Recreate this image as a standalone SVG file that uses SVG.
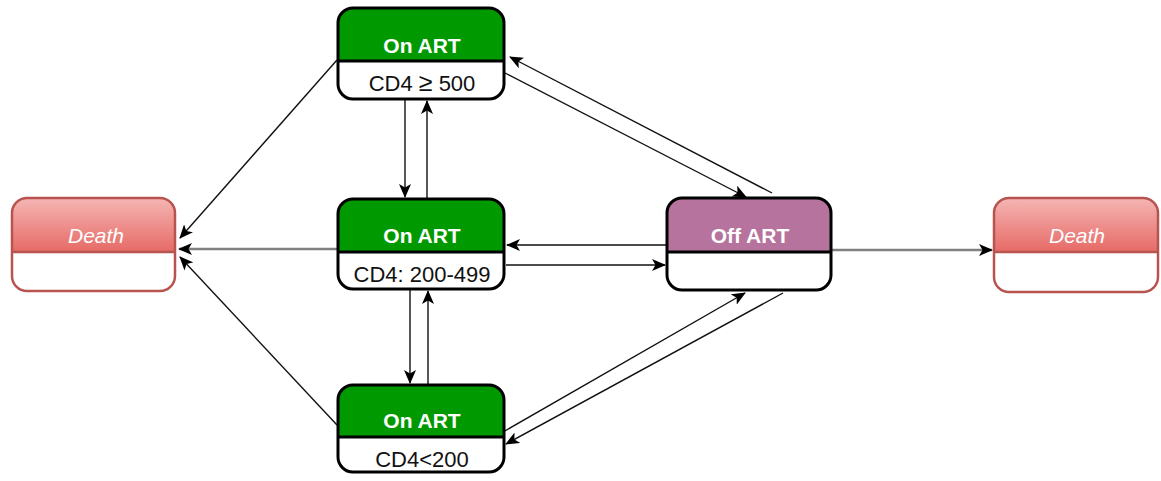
<svg xmlns="http://www.w3.org/2000/svg" width="1161" height="481" viewBox="0 0 1161 481">
  <style>
    .frame { fill: none; stroke: #000; stroke-width: 3; }
    .rule { stroke: #000; stroke-width: 3; }
    .onart { fill: #009900; }
    .offart { fill: #b5739d; }
    .deathframe { fill: none; stroke: #b85450; stroke-width: 2.5; }
    .deathrule { stroke: #b85450; stroke-width: 2.5; }
    .title { font-family: "Liberation Sans", Arial, sans-serif; font-size: 21px; font-weight: bold; fill: #fff; text-anchor: middle; }
    .sub { font-family: "Liberation Sans", Arial, sans-serif; font-size: 22px; fill: #111; text-anchor: middle; }
    .deathtitle { font-family: "Liberation Sans", Arial, sans-serif; font-size: 21px; font-style: italic; fill: #fff; text-anchor: middle; }
    .edge { fill: none; stroke: #111; stroke-width: 1.4; marker-end: url(#arrow); }
    .edge-grey { fill: none; stroke: #808080; stroke-width: 2.5; marker-end: url(#arrow); }
  </style>
  <defs>
    <linearGradient id="deathFill" x1="0" y1="0" x2="0" y2="1">
      <stop offset="0" stop-color="#f5b6b4"/>
      <stop offset="1" stop-color="#e66a66"/>
    </linearGradient>
    <marker id="arrow" viewBox="0 0 14 12" refX="13" refY="6" markerWidth="14" markerHeight="12" markerUnits="userSpaceOnUse" orient="auto">
      <path d="M0,0 L14,6 L0,12 L3.5,6 Z" fill="#000"/>
    </marker>
  </defs>

  <rect width="1161" height="481" fill="#fff"/>

  <!-- connectors -->
  <g id="connectors">
    <!-- to left Death -->
    <line class="edge" x1="337" y1="60" x2="180" y2="238"/>
    <line class="edge-grey" x1="338" y1="249" x2="179" y2="249"/>
    <line class="edge" x1="337" y1="425" x2="180" y2="257"/>
    <!-- top On ART <-> middle On ART -->
    <line class="edge" x1="405" y1="100" x2="405" y2="197"/>
    <line class="edge" x1="427" y1="198" x2="427" y2="101"/>
    <!-- middle On ART <-> bottom On ART -->
    <line class="edge" x1="410" y1="290" x2="410" y2="383"/>
    <line class="edge" x1="428" y1="384" x2="428" y2="291"/>
    <!-- middle On ART <-> Off ART -->
    <line class="edge" x1="666" y1="245" x2="507" y2="245"/>
    <line class="edge" x1="506" y1="265" x2="665" y2="265"/>
    <!-- top On ART <-> Off ART -->
    <line class="edge" x1="772" y1="193" x2="510" y2="57"/>
    <line class="edge" x1="505" y1="73" x2="746" y2="197"/>
    <!-- bottom On ART <-> Off ART -->
    <line class="edge" x1="503" y1="432" x2="745" y2="293"/>
    <line class="edge" x1="783" y1="293" x2="506" y2="444"/>
    <!-- Off ART to right Death -->
    <line class="edge-grey" x1="832" y1="250" x2="992" y2="250"/>
  </g>

  <!-- On ART, CD4 >= 500 -->
  <g id="on-art-high">
    <rect x="338" y="8" width="166" height="91" rx="15" fill="#fff"/>
    <path class="onart" d="M338,61 V23 A15,15 0 0 1 353,8 H489 A15,15 0 0 1 504,23 V61 Z"/>
    <line class="rule" x1="338" y1="61" x2="504" y2="61"/>
    <rect class="frame" x="338" y="8" width="166" height="91" rx="15"/>
    <text class="title" x="422" y="53">On ART</text>
    <text class="sub" x="422" y="91">CD4 <tspan font-size="25px">≥</tspan> 500</text>
  </g>

  <!-- On ART, CD4 200-499 -->
  <g id="on-art-mid">
    <rect x="338" y="199" width="166" height="90" rx="15" fill="#fff"/>
    <path class="onart" d="M338,252 V214 A15,15 0 0 1 353,199 H489 A15,15 0 0 1 504,214 V252 Z"/>
    <line class="rule" x1="338" y1="252" x2="504" y2="252"/>
    <rect class="frame" x="338" y="199" width="166" height="90" rx="15"/>
    <text class="title" x="422" y="243">On ART</text>
    <text class="sub" x="422" y="282">CD4: 200-499</text>
  </g>

  <!-- On ART, CD4 < 200 -->
  <g id="on-art-low">
    <rect x="338" y="385" width="166" height="87" rx="15" fill="#fff"/>
    <path class="onart" d="M338,437 V400 A15,15 0 0 1 353,385 H489 A15,15 0 0 1 504,400 V437 Z"/>
    <line class="rule" x1="338" y1="437" x2="504" y2="437"/>
    <rect class="frame" x="338" y="385" width="166" height="87" rx="15"/>
    <text class="title" x="422" y="428">On ART</text>
    <text class="sub" x="422" y="467">CD4&lt;200</text>
  </g>

  <!-- Off ART -->
  <g id="off-art">
    <rect x="667" y="198" width="164" height="92" rx="15" fill="#fff"/>
    <path class="offart" d="M667,252 V213 A15,15 0 0 1 682,198 H816 A15,15 0 0 1 831,213 V252 Z"/>
    <line class="rule" x1="667" y1="252" x2="831" y2="252"/>
    <rect class="frame" x="667" y="198" width="164" height="92" rx="15"/>
    <text class="title" x="750" y="243">Off ART</text>
  </g>

  <!-- Death (left) -->
  <g id="death-left">
    <rect x="12" y="198" width="163" height="93" rx="15" fill="#fff"/>
    <path d="M12,252 V213 A15,15 0 0 1 27,198 H160 A15,15 0 0 1 175,213 V252 Z" fill="url(#deathFill)"/>
    <line class="deathrule" x1="12" y1="252" x2="175" y2="252"/>
    <rect class="deathframe" x="12" y="198" width="163" height="93" rx="15"/>
    <text class="deathtitle" x="96" y="243">Death</text>
  </g>

  <!-- Death (right) -->
  <g id="death-right">
    <rect x="994" y="198" width="164" height="94" rx="15" fill="#fff"/>
    <path d="M994,252 V213 A15,15 0 0 1 1009,198 H1143 A15,15 0 0 1 1158,213 V252 Z" fill="url(#deathFill)"/>
    <line class="deathrule" x1="994" y1="252" x2="1158" y2="252"/>
    <rect class="deathframe" x="994" y="198" width="164" height="94" rx="15"/>
    <text class="deathtitle" x="1077" y="243">Death</text>
  </g>
</svg>
